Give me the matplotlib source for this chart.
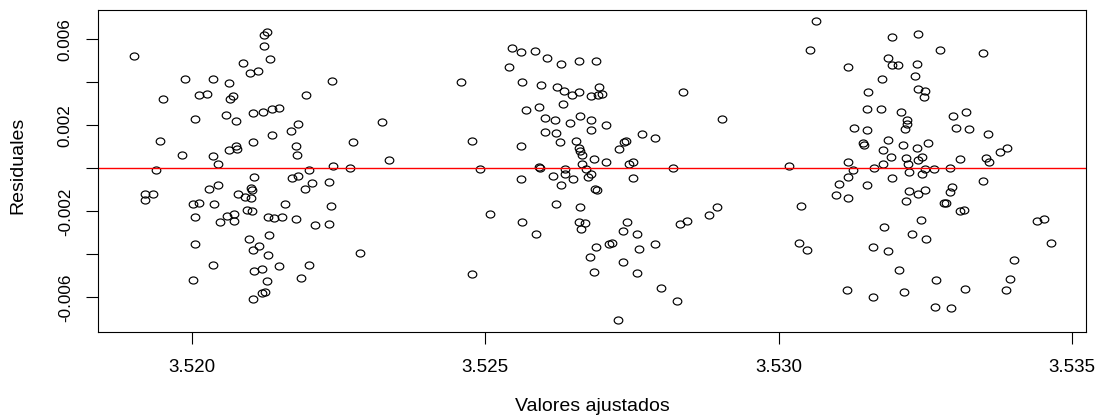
import numpy as np
import matplotlib
matplotlib.use("Agg")
import matplotlib.pyplot as plt
from matplotlib.path import Path

plt.rcParams['font.family'] = ['Liberation Sans', 'DejaVu Sans']

# ---- data ----
fitted_g1 = [
    3.51901, 3.52086, 3.52099, 3.51988, 3.52035, 3.52063, 3.51951, 3.52012, 3.52026, 3.52069,
    3.52065, 3.52005, 3.52058, 3.52075, 3.52103, 3.51946, 3.52104, 3.51983, 3.52035, 3.52063,
    3.52075, 3.52077, 3.52045, 3.51938, 3.52105, 3.52028, 3.52045, 3.52101, 3.52102, 3.52078,
    3.52090, 3.52101, 3.51920, 3.51933, 3.51920, 3.52002, 3.52011, 3.52037, 3.52005, 3.52047,
    3.52060, 3.52072, 3.52072, 3.52093, 3.52102, 3.52097, 3.52103, 3.52005, 3.52035, 3.52002,
    3.52106, 3.52103,
    3.52127, 3.52123, 3.52123, 3.52133, 3.52112, 3.52239, 3.52194, 3.52121, 3.52136, 3.52148,
    3.52323, 3.52168, 3.52181, 3.52136, 3.52274, 3.52177, 3.52179, 3.52336, 3.52241, 3.52270,
    3.52200, 3.52170, 3.52181, 3.52192, 3.52205, 3.52233, 3.52158, 3.52237, 3.52130, 3.52140,
    3.52153, 3.52177, 3.52209, 3.52233, 3.52131, 3.52114, 3.52129, 3.52287, 3.52119, 3.52148,
    3.52200, 3.52185, 3.52127, 3.52120, 3.52124,
]
resid_g1 = [
    0.005223, 0.004912, 0.004418, 0.004167, 0.004167, 0.003953, 0.003209, 0.003409, 0.003456, 0.003349,
    0.003209, 0.002293, 0.002493, 0.002186, 0.002558, 0.001284, 0.001237, 0.000633, 0.000572, 0.000837,
    0.001023, 0.000912, 0.000186, -0.000079, -0.000405, -0.000977, -0.000791, -0.000916, -0.001009, -0.001195,
    -0.001335, -0.001395, -0.001195, -0.001195, -0.001488, -0.001660, -0.001600, -0.001660, -0.002251, -0.002512,
    -0.002205, -0.002126, -0.002451, -0.001939, -0.002000, -0.003302, -0.003814, -0.003521, -0.004511, -0.005195,
    -0.004777, -0.006093,
    0.006353, 0.006200, 0.005674, 0.005070, 0.004511, 0.004060, 0.003409, 0.002605, 0.002744, 0.002791,
    0.002139, 0.001735, 0.002046, 0.001535, 0.001237, 0.001023, 0.000633, 0.000372, 0.000121, 0.000014,
    -0.000079, -0.000437, -0.000344, -0.000949, -0.000698, -0.000637, -0.001660, -0.001753, -0.002265, -0.002298,
    -0.002265, -0.002358, -0.002651, -0.002577, -0.003116, -0.003614, -0.004018, -0.003925, -0.004684, -0.004530,
    -0.004484, -0.005088, -0.005242, -0.005786, -0.005739,
]

fitted_g2 = [
    3.52545, 3.52561, 3.52584, 3.52605, 3.52629, 3.52540, 3.52459, 3.52562, 3.52594, 3.52622,
    3.52634, 3.52648, 3.52633, 3.52592, 3.52570, 3.52602, 3.52618, 3.52644, 3.52602, 3.52620,
    3.52627, 3.52655, 3.52478, 3.52560, 3.52491, 3.52591, 3.52593, 3.52635, 3.52635, 3.52616,
    3.52650, 3.52560, 3.52629, 3.52620, 3.52508, 3.52562, 3.52586, 3.52478,
    3.52659, 3.52689, 3.52659, 3.52693, 3.52680, 3.52692, 3.52698, 3.52837, 3.52661, 3.52680,
    3.52680, 3.52706, 3.52904, 3.52659, 3.52662, 3.52664, 3.52737, 3.52739, 3.52727, 3.52767,
    3.52790, 3.52685, 3.52706, 3.52745, 3.52751, 3.52820, 3.52665, 3.52671, 3.52680, 3.52675,
    3.52751, 3.52687, 3.52691, 3.52661, 3.52894, 3.52881, 3.52844, 3.52831, 3.52741, 3.52734,
    3.52660, 3.52669, 3.52663, 3.52758, 3.52710, 3.52716, 3.52689, 3.52790, 3.52762, 3.52678,
    3.52734, 3.52685, 3.52758, 3.52799, 3.52826, 3.52726,
]
resid_g2 = [
    0.005581, 0.005423, 0.005442, 0.005116, 0.004865, 0.004711, 0.004014, 0.004014, 0.003860, 0.003767,
    0.003609, 0.003409, 0.002991, 0.002851, 0.002698, 0.002339, 0.002232, 0.002093, 0.001688, 0.001642,
    0.001237, 0.001284, 0.001284, 0.001023, -0.000033, 0.000047, 0.000000, -0.000047, -0.000265, -0.000344,
    -0.000484, -0.000484, -0.000791, -0.001646, -0.002112, -0.002512, -0.003056, -0.004930,
    0.004977, 0.004977, 0.003549, 0.003767, 0.003363, 0.003395, 0.003456, 0.003549, 0.002446, 0.002246,
    0.001781, 0.002000, 0.002293, 0.000958, 0.000819, 0.000633, 0.001237, 0.001284, 0.000884, 0.001581,
    0.001423, 0.000419, 0.000279, 0.000214, 0.000279, 0.000014, 0.000186, -0.000019, -0.000279, -0.000405,
    -0.000437, -0.000949, -0.000995, -0.001800, -0.001800, -0.002158, -0.002465, -0.002605, -0.002512, -0.002916,
    -0.002512, -0.002558, -0.002837, -0.003070, -0.003521, -0.003474, -0.003674, -0.003521, -0.003767, -0.004125,
    -0.004344, -0.004837, -0.004884, -0.005553, -0.006158, -0.007056,
]

fitted_g3 = [
    3.53064, 3.53193, 3.53238, 3.53053, 3.53119, 3.53187, 3.53193, 3.53204, 3.53236, 3.53232,
    3.53176, 3.53238, 3.53152, 3.53150, 3.53174, 3.53208, 3.53219, 3.53219, 3.53216, 3.53128,
    3.53150, 3.53143, 3.53145, 3.53187, 3.53178, 3.53212, 3.53236, 3.53191, 3.53217, 3.53220,
    3.53237, 3.53119, 3.53018, 3.53178, 3.53162, 3.53126, 3.53222, 3.53119, 3.53193, 3.53102,
    3.53150, 3.53098, 3.53119, 3.53222, 3.53237, 3.53217, 3.53038, 3.53242, 3.53180, 3.53227,
    3.53035, 3.53048, 3.53160, 3.53187, 3.53205, 3.53117, 3.53214, 3.53160,
    3.53275, 3.53348, 3.53249, 3.53247, 3.53298, 3.53320, 3.53303, 3.53325, 3.53357, 3.53255,
    3.53389, 3.53378, 3.53353, 3.53359, 3.53309, 3.53245, 3.53249, 3.53245, 3.53264, 3.53292,
    3.53348, 3.53249, 3.53296, 3.53292, 3.53282, 3.53286, 3.53309, 3.53316, 3.53440, 3.53452,
    3.53464, 3.53251, 3.53402, 3.53395, 3.53387, 3.53268, 3.53317, 3.53266, 3.53294,
]
resid_g3 = [
    0.006837, 0.006121, 0.006232, 0.005516, 0.004711, 0.005116, 0.004805, 0.004805, 0.004865, 0.004307,
    0.004167, 0.003702, 0.003549, 0.002744, 0.002744, 0.002633, 0.002246, 0.002060, 0.001828, 0.001888,
    0.001781, 0.001191, 0.001084, 0.001316, 0.000865, 0.001084, 0.000930, 0.000526, 0.000465, 0.000214,
    0.000372, 0.000307, 0.000121, 0.000186, 0.000014, -0.000079, -0.000172, -0.000405, -0.000437, -0.000744,
    -0.000791, -0.001256, -0.001395, -0.001042, -0.001181, -0.001535, -0.001753, -0.002405, -0.002716, -0.003070,
    -0.003474, -0.003786, -0.003660, -0.003832, -0.004730, -0.005646, -0.005739, -0.006000,
    0.005516, 0.005377, 0.003609, 0.003302, 0.002446, 0.002633, 0.001888, 0.001828, 0.001581, 0.001191,
    0.000958, 0.000772, 0.000465, 0.000307, 0.000419, 0.000512, -0.000047, -0.000279, -0.000019, 0.000014,
    -0.000577, -0.000995, -0.000884, -0.001088, -0.001600, -0.001600, -0.002000, -0.001953, -0.002451, -0.002358,
    -0.003474, -0.003274, -0.004279, -0.005135, -0.005646, -0.005195, -0.005600, -0.006451, -0.006497,
]

x_ticks = [3.520, 3.525, 3.530, 3.535]
x_tick_labels = ["3.520", "3.525", "3.530", "3.535"]
y_ticks = [-0.006, -0.004, -0.002, 0.0, 0.002, 0.004, 0.006]
y_tick_labels = ["-0.006", "", "-0.002", "", "0.002", "", "0.006"]

xlabel = "Valores ajustados"
ylabel = "Residuales"

# ---- figure ----
W, H = 1104, 419
fig = plt.figure(figsize=(W / 100, H / 100), dpi=100)
ax = fig.add_axes([98 / W, (H - 332) / H, (1086 - 98) / W, (332 - 10) / H])

fitted = np.concatenate([fitted_g1, fitted_g2, fitted_g3])
resid = np.concatenate([resid_g1, resid_g2, resid_g3])

# slightly flattened open circle (as in the reference)
circ = Path.unit_circle()
ellipse = Path(circ.vertices * np.array([1.0, 0.82]), circ.codes)

ax.plot(fitted, resid, linestyle='none', marker=ellipse, markersize=6.2,
        markerfacecolor='none', markeredgecolor='black', markeredgewidth=0.85)
ax.axhline(0, color='red', linewidth=1.0)

ax.set_xlim(3.518396, 3.535239)
ax.set_ylim(-0.00761, 0.00736)

ax.set_xticks(x_ticks)
ax.set_xticklabels(x_tick_labels, fontsize=13.5)
ax.set_yticks(y_ticks)
ax.set_yticklabels(y_tick_labels, fontsize=12.3, rotation=90, va='center')

ax.tick_params(axis='both', direction='out', length=8.6, width=0.8, color='black')
ax.tick_params(axis='x', pad=11)
ax.tick_params(axis='y', pad=9.5)

for s in ax.spines.values():
    s.set_linewidth(0.8)
    s.set_color('black')

fig.text(592 / W, 1 - 406 / H, xlabel, ha='center', va='center', fontsize=14)
fig.text(17.5 / W, 1 - 165 / H, ylabel, ha='center', va='center', rotation=90, fontsize=14)

fig.savefig("out.png", dpi=100)
